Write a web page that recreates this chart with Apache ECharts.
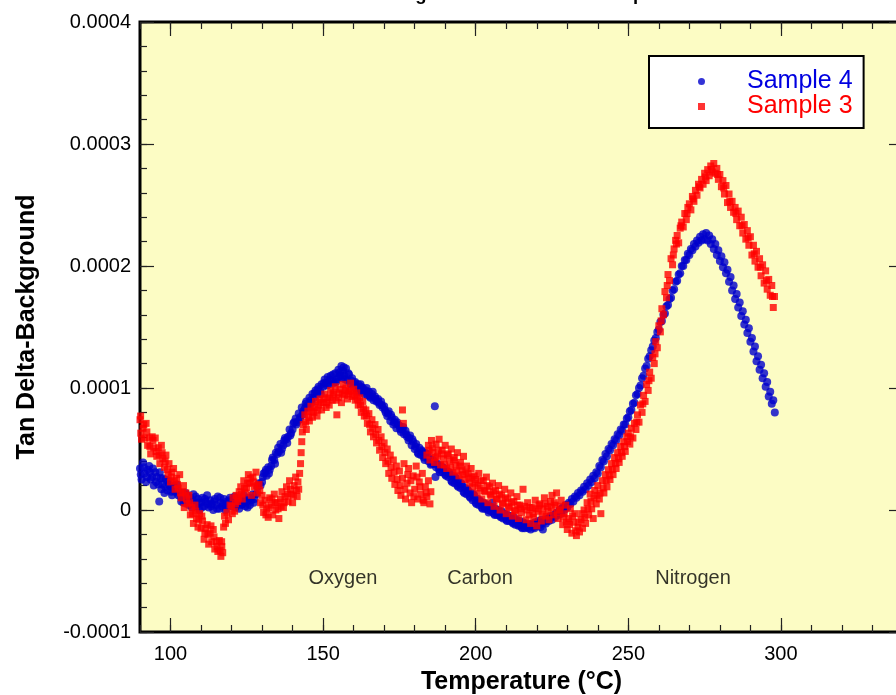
<!DOCTYPE html>
<html>
<head>
<meta charset="utf-8">
<title>Tan Delta-Background</title>
<script src="https://cdn.jsdelivr.net/npm/echarts@6/dist/echarts.min.js"></script>
<style>
  html, body { margin: 0; padding: 0; background: #fff; }
  #main { width: 896px; height: 695px; }
</style>
</head>
<body>
<div id="main"></div>
<script>
// values are tan delta x 1e6
var sample4 = [
  [90,34],[90.5,25],[91,39],[91.5,30],[92,23],[92.5,33],[93,36],[93.5,25],[94,27],[94.5,20],[95,31],[95.5,27],[96,21],[96.3,7],[96.5,31],[97,17],[97.5,26],[98,14],[98.5,25],[99,16],[99.5,21],
  [100,19],[100.5,12],[101,20],[101.5,15],[102,21],[102.5,12],[103,14],[103.5,7],[104,14],[104.5,9],[105,14],[105.5,9],[106,4],[106.5,10],[107,2],[107.5,13],[108,5],[108.5,3],[109,9],[109.5,0],
  [110,6],[110.5,10],[111,3],[111.5,7],[112,12],[112.5,2],[113,8],[113.5,5],[114,0],[114.5,9],[115,4],[115.5,11],[116,1],[116.5,6],[117,3],[117.5,9],[118,0],[118.5,7],[119,4],[119.5,10],
  [120,3],[120.5,8],[121,11],[121.5,4],[122,6],[122.5,1],[123,9],[123.5,5],[124,12],[124.5,3],[125,7],[125.5,10],[126,4],[126.5,8],[127,13],[127.5,9],
  [128,13],[128.5,19],[129,22],[129.5,20],[130,23],[130.5,30],[131,31],[131.5,28],[132,35],[132.5,33],[133,36],[133.5,43],[134,41],[134.5,47],[135,46],[135.5,48],[136,54],[136.5,50],[137,53],[137.5,59],[138,58],[138.5,60],[139,66],[139.5,63],
  [140,66],[140.5,72],[141,75],[141.5,72],[142,79],[142.5,76],[143,84],[143.5,81],[144,83],[144.5,89],[145,86],[145.5,92],[146,90],[146.5,95],[147,92],[147.5,98],[148,95],[148.5,101],[149,98],[149.5,103],
  [150,101],[150.5,107],[151,104],[151.5,109],[152,103],[152.5,110],[153,106],[153.5,104],[154,112],[154.5,107],[155,115],[155.2,109],[155.5,113],[156,118],[156.3,108],[156.5,114],[157,110],[157.5,116],[158,106],[158.5,111],[159,103],[159.5,108],
  [160,101],[160.5,105],[161,99],[161.5,103],[162,97],[162.5,101],[163,100],[163.5,95],[164,98],[164.5,94],[165,97],[165.5,92],[166,95],[166.5,90],[167,93],[167.5,89],[168,91],[168.5,86],[169,89],[169.5,84],
  [170,85],[170.5,80],[171,77],[171.5,81],[172,73],[172.5,76],[173,70],[173.5,74],[174,67],[174.5,70],[175,69],[175.5,64],[176,66],[176.5,62],[177,65],[177.5,60],[178,57],[178.5,61],[179,53],[179.5,56],
  [180,50],[180.5,54],[181,47],[181.5,51],[182,45],[182.5,48],[183,43],[183.5,47],[184,44],[184.5,40],[185,42],[185.5,38],[186,41],[186.6,85],[186.8,27],[187,35],[187.5,38],[188,33],[188.5,36],[189,31],[189.5,34],
  [190,29],[190.5,32],[191,27],[191.5,30],[192,24],[192.5,28],[193,22],[193.5,26],[194,20],[194.5,23],[195,18],[195.5,21],[196,15],[196.5,18],[197,13],[197.5,16],[198,11],[198.5,14],[199,8],[199.5,12],
  [200,6],[200.5,9],[201,4],[201.5,7],[202,2],[202.5,6],[203,1],[203.5,4],[204,0],[204.5,3],[205,-1],[205.5,6],[206,-3],[206.5,1],[207,-4],[207.5,0],[208,-5],[208.5,-1],[209,-7],[209.5,-3],
  [210,-8],[210.5,-4],[211,-9],[211.5,-5],[212,-10],[212.5,-6],[213,-12],[213.5,-8],[214,-13],[214.5,-9],[215,-14],[215.5,-10],[216,-15],[216.5,-11],[217,-14],[217.5,-12],[218,-16],[218.5,-11],[219,-14],[219.5,-10],
  [220,-13],[220.5,-9],[221,-12],[221.5,-8],[222,-16],[222.5,-9],[223,-11],[223.5,-7],[224,-9],[224.5,-5],[225,-8],[225.5,-4],[226,-6],[226.5,-2],[227,-4],[227.5,0],[228,-3],[228.5,2],[229,0],[229.5,4],
  [230,2],[230.5,6],[231,5],[231.5,9],[232,7],[232.5,11],[233,10],[233.5,14],[234,12],[234.5,16],[235,15],[235.5,19],[236,17],[236.5,22],[237,20],[237.5,25],[238,23],[238.5,28],[239,26],[239.5,31],
  [240,30],[240.5,36],[241,35],[241.5,41],[242,40],[242.5,46],[243,44],[243.5,50],[244,49],[244.5,54],[245,53],[245.5,58],[246,57],[246.5,62],[247,61],[247.5,66],[248,65],[248.5,70],[249,70],[249.5,75],
  [250,76],[250.5,81],[251,82],[251.5,87],[252,88],[252.5,94],[253,95],[253.5,100],[254,102],[254.5,108],[255,110],[255.5,116],[256,118],[256.5,124],[257,126],[257.5,131],[258,134],[258.5,139],[259,141],[259.5,146],
  [260,148],[260.5,154],[261,155],[261.5,160],[262,161],[262.5,167],[263,168],[263.5,173],[264,174],[264.5,180],[265,181],[265.5,187],[266,188],[266.5,193],[267,194],[267.5,200],[268,200],[268.5,205],[269,205],[269.5,210],
  [270,209],[270.5,214],[271,213],[271.5,218],[272,216],[272.5,221],[273,219],[273.5,224],[274,221],[274.5,226],[275,222],[275.5,227],[276,221],[276.5,225],[277,218],[277.5,222],[278,214],[278.5,218],[279,209],[279.5,213],
  [280,204],[280.5,208],[281,199],[281.5,203],[282,194],[282.5,197],[283,187],[283.5,191],[284,180],[284.5,184],[285,173],[285.5,177],[286,166],[286.5,170],[287,159],[287.5,163],[288,152],[288.5,156],[289,145],[289.5,149],
  [290,138],[290.5,141],[291,130],[291.5,134],[292,122],[292.5,126],[293,115],[293.5,119],[294,108],[294.5,112],[295,101],[295.5,105],[296,93],[296.5,97],[297,87],[297.5,90],[298,80],
  // second pass through the wider parts of the band
  [90.25,29],[91.25,35],[92.25,27],[93.25,31],[94.25,34],[95.25,23],[96.75,26],[97.25,21],[98.25,19],[99.25,24],[100.25,15],[101.25,18],[102.25,16],[103.25,11],[104.25,6],[105.25,12],[106.25,7],[107.25,8],[108.25,11],[109.25,6],
  [110.25,2],[111.25,9],[112.25,5],[113.25,3],[114.25,7],[115.25,1],[116.25,10],[117.25,5],[118.25,3],[119.25,8],[120.25,6],[121.25,2],[122.25,9],[123.25,4],[124.25,7],[125.25,2],[126.25,10],[127.25,6],
  [130.25,27],[131.25,33],[132.25,30],[133.25,41],[134.25,38],[135.25,51],[136.25,47],[137.25,57],[138.25,55],[139.25,61],[140.25,71],[141.25,70],[142.25,74],[143.25,78],[144.25,87],[145.25,84],[146.25,88],[147.25,96],[148.25,99],[149.25,95],
  [150.25,104],[151.25,102],[152.25,107],[153.25,111],[154.25,105],[155.75,110],[156.75,117],[157.25,107],[158.25,112],[159.25,106],[160.25,104],[161.25,97],[162.25,103],[163.25,97],[164.25,100],[165.25,93],[166.25,97],[167.25,91],[168.25,88],[169.25,86],
  [170.25,82],[171.25,79],[172.25,78],[173.25,72],[174.25,72],[175.25,66],[176.25,68],[177.25,62],[178.25,59],[179.25,58],[180.25,52],[181.25,46],[182.25,49],[183.25,41],[184.25,46],[185.25,37],[186.25,38],[187.25,37],[188.25,31],[189.25,35],
  [190.25,28],[191.25,31],[192.25,23],[193.25,27],[194.25,19],[195.25,22],[196.25,14],[197.25,17],[198.25,10],[199.25,13],[200.25,5],[201.25,8],[202.25,1],[203.25,5],[204.25,-2],[205.25,2],[206.25,-4],[207.25,-1],[208.25,-6],[209.25,-3],
  [210.25,-9],[211.25,-6],[212.25,-11],[213.25,-9],[214.25,-12],[215.25,-15],[216.25,-12],[217.25,-15],[218.25,-12],[219.25,-15],[220.25,-11],[221.25,-14],[222.25,-10],[223.25,-8],[224.25,-6],[225.25,-5],[226.25,-3],[227.25,-2],[228.25,1],[229.25,2]
];

var sample3 = [
  [90,74],[90.2,77],[90.5,58],[91,67],[91.5,59],[92,71],[92.5,53],[93,59],[93.5,46],[94,60],[94.5,51],[95,59],[95.5,44],[96,51],[96.5,38],[97,53],[97.5,42],[98,35],[98.5,45],[99,33],[99.5,38],
  [100,23],[100.5,31],[101,34],[101.5,17],[102,26],[102.5,18],[103,29],[103.5,10],[104,15],[104.5,2],[105,14],[105.5,5],[106,12],[106.5,-4],[107,2],[107.5,-11],[108,4],[108.5,-7],[109,-14],[109.5,-3],
  [110,-15],[110.5,-9],[111,-24],[111.5,-15],[112,-12],[112.5,-28],[113,-19],[113.5,-26],[114,-16],[114.5,-32],[115,-26],[115.5,-34],[116,-25],[116.5,-38],[116.8,-30],[117.1,-35],
  [117.4,-14],[117.7,-5],[118,-11],[118.5,-2],[119,-8],[119.5,4],
  [120,3],[120.5,10],[121,-1],[121.5,12],[122,7],[122.5,15],[123,19],[123.5,9],[124,24],[124.5,14],[125,18],[125.5,29],[126,22],[126.5,12],[127,27],[127.5,19],[128,31],[128.5,14],[129,21],[129.5,6],
  [130,12],[130.5,-2],[131,8],[131.5,1],[132,-6],[132.5,10],[133,4],[133.5,-4],[134,13],[134.5,0],[135,6],[135.5,-7],[136,9],[136.5,15],[137,2],[137.5,11],[138,19],[138.5,7],[139,24],[139.5,13],[140,6],[140.5,20],[141,27],[141.5,11],[142,17],[142.3,30],
  [142.6,38],[142.8,47],[143,56],[143.2,64],
  [143.5,70],[144,78],[144.5,66],[145,81],[145.5,73],[146,85],[146.5,76],[147,80],[147.5,89],[148,77],[148.5,86],[149,91],[149.5,82],[150,88],[150.5,95],[151,84],[151.5,92],[152,86],[152.5,98],[153,90],[153.5,95],[154,101],[154.5,78],[155,92],[155.5,99],[156,88],[156.5,103],[157,94],[157.5,100],[158,91],[158.5,97],[159,104],[159.5,93],
  [160,99],[160.5,90],[161,96],[161.5,86],[162,92],[162.5,80],[163,89],[163.5,77],[164,82],[164.5,71],[165,79],[165.5,64],[166,74],[166.5,60],[167,70],[167.5,55],[168,66],[168.5,49],[169,60],[169.5,43],[170,55],[170.5,38],[171,50],[171.5,30],[172,45],[172.5,26],[173,41],[173.5,21],[174,36],[174.5,16],[175,32],
  [176,82],[176.3,71],
  [175.5,12],[176,26],[176.5,38],[177,9],[177.5,22],[178,34],[178.5,14],[179,6],[179.5,28],[180,17],[180.5,36],[181,9],[181.5,23],[182,13],[182.5,30],[183,6],[183.5,19],[184,11],[184.5,24],[185,5],[185.3,15],
  [184,45],[184.5,53],[185,41],[185.5,57],[186,47],[186.5,39],[187,54],[187.5,44],[188,58],[188.5,37],[189,49],[189.5,42],[190,53],[190.5,34],[191,46],[191.5,40],[192,50],[192.5,31],[193,43],[193.5,37],[194,47],[194.5,28],[195,39],[195.5,33],[196,44],[196.5,25],[197,36],[197.5,30],[198,22],[198.5,34],[199,19],[199.5,28],
  [200,25],[200.5,14],[201,30],[201.5,18],[202,9],[202.5,24],[203,15],[203.5,27],[204,6],[204.5,19],[205,12],[205.5,22],[206,3],[206.5,16],[207,9],[207.5,20],[208,0],[208.5,12],[209,6],[209.5,17],[210,-3],[210.5,9],[211,2],[211.5,14],[212,-5],[212.5,7],[213,0],[213.5,11],[214,-7],[214.5,4],[215,-2],[215.5,17],
  [216,3],[216.5,-8],[217,6],[217.5,-4],[218,-11],[218.5,2],[219,-6],[219.5,8],[220,-13],[220.5,-1],[221,5],[221.5,-9],[222,1],[222.5,10],[223,-5],[223.5,3],[224,-8],[224.5,7],[225,12],[225.5,-4],[226,4],[226.5,14],[227,-7],[227.5,0],[228,8],[228.5,-12],[229,-3],[229.5,4],[230,-16],[230.5,-7],[231,1],[231.5,-19],[232,-10],[232.5,-3],[233,-21],[233.5,-14],[234,-18],
  [234.5,-8],[235,-15],[235.5,0],[236,-11],[236.5,6],[237,-4],[237.5,13],[238,1],[238.5,-7],[239,16],[239.5,5],[240,20],[240.5,9],[241,-3],[241.5,24],[242,14],[242.5,29],[243,19],[243.5,33],[244,25],[244.5,38],[245,29],[245.5,43],[246,34],[246.5,47],[247,39],[247.5,52],[248,44],[248.5,56],[249,48],[249.5,60],
  [250,63],[250.5,54],[251,67],[251.5,59],[252,71],[252.5,66],[253,78],[253.5,72],[254,86],[254.5,80],[255,94],[255.5,89],[256,103],[256.5,98],[257,113],[257.5,108],[258,125],[258.5,120],[259,138],[259.5,133],[260,151],[260.5,146],[261,165],[261.5,160],[262,179],[262.5,174],[263,193],[263.5,188],[264,206],[264.5,201],
  [265,214],[265.5,221],[266,225],[266.5,219],[267,231],[267.5,236],[268,232],[268.5,243],[269,238],[269.5,248],[270,251],[270.5,246],[271,257],[271.5,253],[272,262],[272.5,258],[273,267],[273.5,264],[274,271],[274.5,267],[275,276],[275.5,270],[276,279],[276.5,274],[277,282],[277.5,277],[278,284],[278.5,276],
  [279,280],[279.5,271],[280,275],[280.5,265],[281,270],[281.5,259],[282,266],[282.5,252],[283,259],[283.5,248],[284,253],[284.5,244],[285,248],[285.5,238],[286,245],[286.5,233],[287,240],[287.5,227],[288,234],[288.5,222],[289,229],[289.5,217],
  [290,224],[290.5,209],[291,217],[291.5,204],[292,212],[292.5,199],[293,206],[293.5,192],[294,201],[294.5,186],[295,196],[295.5,181],[296,189],[296.5,176],[297,184],[297.5,166],[297.9,175],
  // second pass through the wider parts of the band
  [90.25,63],[91.25,70],[92.25,64],[93.25,52],[94.25,57],[95.25,48],[96.25,45],[97.25,47],[98.25,40],[99.25,29],[100.25,27],[101.25,24],[102.25,21],[103.25,14],[104.25,20],[105.25,9],[106.25,6],[107.25,-3],[108.25,-1],[109.25,-8],
  [110.25,-5],[111.25,-19],[112.25,-20],[113.25,-13],[114.25,-22],[115.25,-30],[116.25,-33],[116.75,-26],
  [120.25,-3],[121.25,5],[122.25,10],[123.25,13],[124.25,18],[125.25,22],[126.25,26],[127.25,23],[128.25,20],[129.25,16],[130.25,4],[131.25,-4],[132.25,2],[133.25,9],[134.25,6],[135.25,1],[136.25,3],[137.25,6],[138.25,13],[139.25,17],[140.25,12],[141.25,16],[141.75,23],
  [144.25,72],[145.25,76],[146.25,81],[147.25,84],[148.25,82],[149.25,88],[150.25,91],[151.25,88],[152.25,92],[153.25,96],[154.25,90],[155.25,96],[156.25,95],[157.25,98],[158.25,95],[159.25,98],
  [160.25,94],[161.25,91],[162.25,86],[163.25,83],[164.25,77],[165.25,70],[166.25,67],[167.25,62],[168.25,57],[169.25,52],[170.25,47],[171.25,40],[172.25,35],[173.25,31],[174.25,25],[175.25,20],[176.75,17],[177.75,29],[178.75,24],[179.75,11],[180.75,27],[181.75,19],[182.75,8],[183.75,14],
  [184.75,49],[185.75,51],[186.75,43],[187.75,49],[188.75,46],[189.75,37],[190.75,45],[191.75,35],[192.75,41],[193.75,32],[194.75,36],[195.75,29],[196.75,31],[197.75,26],[198.75,27],[199.75,22],
  [200.75,20],[201.75,24],[202.75,16],[203.75,20],[204.75,13],[205.75,15],[206.75,9],[207.75,13],[208.75,5],[209.75,10],[210.75,3],[211.75,6],[212.75,-1],[213.75,4],[214.75,1],
  [216.75,0],[217.75,2],[218.75,-3],[219.75,1],[220.75,4],[221.75,-4],[222.75,5],[223.75,-1],[224.75,2],[225.75,6],[226.75,-2],[227.75,3],[228.75,-6],[229.75,-10],[230.75,-12],[231.75,-5],[232.75,-17],[233.75,-10],
  [234.75,-3],[235.75,-6],[236.75,1],[237.75,7],[238.75,10],[239.75,12],[240.75,14],[241.75,18],[242.75,24],[243.75,28],[244.75,33],[245.75,38],[246.75,42],[247.75,47],[248.75,52],[249.75,56],
  [250.75,60],[252.75,72],[254.75,87],[256.75,106],[258.75,128],[260.75,155],[262.75,184],[264.75,209],
  [265.75,218],[267.25,233],[269.25,243],[271.25,255],[273.25,265],[275.25,273],[277.25,279],[279.25,275],[281.25,264],[283.25,253],[285.25,243],[287.25,233],[289.25,223],[291.25,210],[293.25,199],[295.25,188],[297.25,175]
];

var xMajorTicks = [100, 150, 200, 250, 300];
var yMajorTicks = [-100, 0, 100, 200, 300, 400];

var peakNames = ['Oxygen', 'Carbon', 'Nitrogen'];
var peakTemps = [156.5, 201.4, 271.2];
var peakLabelLevel = -56;

var FONT = '"Liberation Sans", Arial, Helvetica, sans-serif';

function minorAxis(pos, min, max, step) {
    return {
        type: 'value', position: pos, min: min, max: max, interval: step,
        axisLine: { show: false, onZero: false },
        axisTick: { inside: true, length: 7, lineStyle: { color: '#222', width: 1.2 } },
        axisLabel: { show: false },
        splitLine: { show: false }
    };
}

function majorAxis(pos, min, max, ticks, withLabels) {
    return {
        type: 'value', position: pos, min: min, max: max,
        axisLine: { show: false, onZero: false },
        axisTick: { inside: true, length: 14, customValues: ticks, lineStyle: { color: '#222', width: 1.2 } },
        axisLabel: { show: withLabels, customValues: ticks },
        splitLine: { show: false }
    };
}

var myChart = echarts.init(document.getElementById('main'));

var xBottom = majorAxis('bottom', 90, 340, xMajorTicks, true);
xBottom.axisLabel.fontSize = 20;
xBottom.axisLabel.color = '#000';
xBottom.axisLabel.margin = 12;
xBottom.name = 'Temperature (°C)';
xBottom.nameLocation = 'middle';
xBottom.nameGap = 38;
xBottom.nameTextStyle = { fontSize: 25, fontWeight: 'bold', color: '#000', fontFamily: FONT };

var yLeft = majorAxis('left', -100, 400, yMajorTicks, true);
yLeft.axisLabel.fontSize = 20;
yLeft.axisLabel.color = '#000';
yLeft.axisLabel.margin = 9;
yLeft.axisLabel.formatter = function (v) {
    return v === 0 ? '0' : (v / 1e6).toFixed(4);
};
yLeft.name = 'Tan Delta-Background';
yLeft.nameLocation = 'middle';
yLeft.nameGap = 100;
yLeft.nameTextStyle = { fontSize: 25, fontWeight: 'bold', color: '#000', fontFamily: FONT };

var peakData = peakNames.map(function (n, i) {
    return [peakTemps[i], peakLabelLevel, n];
});

var option = {
    animation: false,
    textStyle: { fontFamily: FONT },
    title: {
        text: 'Background Subtraction Comparison',
        left: 366, top: -20,
        textStyle: { fontSize: 18.5, fontWeight: 'bold', color: '#000', fontFamily: FONT }
    },
    grid: {
        left: 140, top: 22, width: 763, height: 610,
        outerBoundsMode: 'none', containLabel: false,
        show: true, backgroundColor: '#fcfcc4',
        borderColor: '#000', borderWidth: 3
    },
    legend: {
        orient: 'vertical', left: 649, top: 56,
        padding: [13, 11, 9, 49],
        itemGap: 0, itemWidth: 7, itemHeight: 7,
        backgroundColor: '#fff', borderColor: '#000', borderWidth: 2,
        textStyle: { fontSize: 25, lineHeight: 24, padding: [0, 0, 0, 37], fontFamily: FONT },
        data: [
            { name: 'Sample 4', icon: 'circle', textStyle: { color: '#0000e0' } },
            { name: 'Sample 3', icon: 'rect', textStyle: { color: '#ff0000' } }
        ]
    },
    xAxis: [
        minorAxis('bottom', 90, 340, 10),
        xBottom,
        minorAxis('top', 90, 340, 10),
        majorAxis('top', 90, 340, xMajorTicks, false)
    ],
    yAxis: [
        minorAxis('left', -100, 400, 20),
        yLeft,
        minorAxis('right', -100, 400, 20),
        majorAxis('right', -100, 400, yMajorTicks, false)
    ],
    series: [
        {
            name: 'Sample 4', type: 'scatter', xAxisIndex: 0, yAxisIndex: 0,
            symbol: 'circle', symbolSize: 8,
            itemStyle: { color: '#0000cc' },
            data: sample4
        },
        {
            name: 'Sample 3', type: 'scatter', xAxisIndex: 0, yAxisIndex: 0,
            symbol: 'rect', symbolSize: 7,
            itemStyle: { color: '#ff0000' },
            data: sample3
        },
        {
            name: 'peaks', type: 'scatter', xAxisIndex: 0, yAxisIndex: 0,
            symbolSize: 0, silent: true,
            label: {
                show: true, position: 'inside',
                formatter: function (p) { return p.value[2]; },
                fontSize: 20, color: '#000', fontFamily: FONT
            },
            data: peakData
        }
    ]
};

myChart.setOption(option);
</script>
</body>
</html>
